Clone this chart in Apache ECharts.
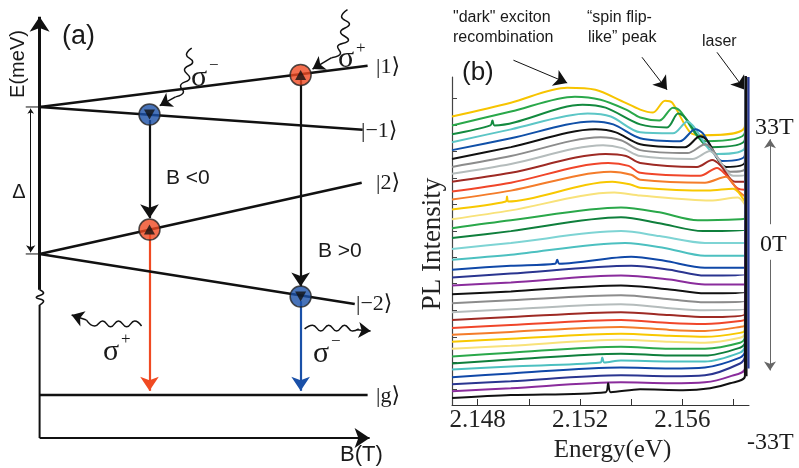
<!DOCTYPE html>
<html><head><meta charset="utf-8">
<script src="https://cdn.jsdelivr.net/npm/echarts@6/dist/echarts.min.js"></script>
<style>html,body{margin:0;padding:0;background:#fff}#c{width:799px;height:468px}</style>
</head><body><div id="c"></div>
<script>
// ---------------- Panel (b) data : PL spectra, energy (eV) vs intensity (arb. units, stacked) ----------------
const energyTicks = [2.148, 2.150, 2.152, 2.154, 2.156, 2.158];
const energyLabels = [2.148, 2.152, 2.156];
const intensityTicks = [1.6, 4.3, 6.9, 9.6, 12.3, 15.0, 17.6, 20.3, 23.0, 25.7, 28.3, 31.0];
const fieldLabels = ['33T', '0T', '-33T'];
const laserEnergy = 2.15848;
const laserPeak = 40;
const curveColors = ['#f7c400','#2aa84a','#138a3f','#5cc6c6','#1050a8','#111111','#8c8c8c','#b5bcbc','#9e2a24',
  '#f0462a','#f47c2a','#f8c800','#f8e27a','#2aa84a','#0f7f3c','#7ed4d4','#4cc0c0','#1048a8','#2a3590','#8a2c9c','#111111',
  '#8c8c8c','#b5bcbc','#9e2a24','#f0462a','#f47c2a','#f8c800','#f8e27a','#2aa84a','#0f7f3c','#4cc0c0','#1048a8','#2a3590','#8a2c9c','#111111'];
const spectra = [
 [[2.1470,29.2],[2.1493,30.6],[2.1515,32.1],[2.1526,31.9],[2.1536,30.8],[2.15435,29.9],[2.15485,29.6],[2.15532,30.8],[2.1556,30.6],[2.1563,27.6],[2.1568,27.3],[2.15844,28.2]],
 [[2.1470,28.3],[2.1493,29.7],[2.1518,31.2],[2.1528,30.9],[2.1538,29.9],[2.15435,29.1],[2.1551,28.8],[2.15563,30.1],[2.1559,29.8],[2.1569,26.7],[2.15844,27.6]],
 [[2.1470,27.4],[2.1485,28.3],[2.14858,28.8],[2.14866,28.3],[2.1521,30.4],[2.1530,30.1],[2.15435,28.4],[2.1554,28.1],[2.15583,29.5],[2.1561,29.1],[2.1571,26.1],[2.15844,26.9]],
 [[2.1470,26.6],[2.1493,27.9],[2.1523,29.5],[2.1532,29.2],[2.15435,27.6],[2.15563,27.5],[2.1562,28.7],[2.1564,28.3],[2.15735,25.4],[2.15844,26.1]],
 [[2.1470,25.8],[2.1493,27.0],[2.1525,28.7],[2.1533,28.4],[2.15435,27.0],[2.1559,26.7],[2.1565,27.9],[2.1568,27.5],[2.15755,24.7],[2.15844,25.3]],
 [[2.1470,24.9],[2.1493,26.1],[2.1526,27.9],[2.1534,27.6],[2.15435,26.4],[2.1561,26.1],[2.15669,27.2],[2.15696,26.8],[2.1577,24.1],[2.15844,24.6]],
 [[2.1470,24.1],[2.1493,25.2],[2.1528,27.1],[2.1536,26.8],[2.15435,25.8],[2.1562,25.5],[2.1569,26.4],[2.15716,25.9],[2.15786,23.6],[2.15844,23.9]],
 [[2.1470,23.4],[2.1493,24.4],[2.1529,26.3],[2.15365,26.0],[2.15435,25.2],[2.1564,24.9],[2.15708,25.7],[2.15731,25.2],[2.15798,23.2],[2.15844,23.3]],
 [[2.1470,22.6],[2.1493,23.5],[2.1530,25.4],[2.1538,25.2],[2.15435,24.5],[2.15657,24.1],[2.15716,24.8],[2.15747,24.3],[2.15805,22.6],[2.15844,22.6]],
 [[2.1470,21.6],[2.1493,22.5],[2.1531,24.5],[2.1539,24.2],[2.15435,23.5],[2.15669,23.2],[2.15735,24.0],[2.15766,23.4],[2.15817,21.9],[2.15844,21.8]],
 [[2.1470,20.8],[2.1493,21.7],[2.1532,23.6],[2.1540,23.3],[2.15435,22.8],[2.15688,22.5],[2.1577,23.1],[2.15817,21.7],[2.15844,21.1]],
 [[2.1470,19.8],[2.1491,20.6],[2.14915,21.1],[2.1492,20.6],[2.15326,22.6],[2.1540,22.3],[2.15435,22.0],[2.1570,21.7],[2.15798,21.9],[2.15844,20.6]],
 [[2.1470,18.8],[2.1493,19.7],[2.15334,21.5],[2.15435,21.2],[2.15708,20.7],[2.15817,21.0],[2.15844,20.3]],
 [[2.1470,17.9],[2.1493,18.7],[2.1536,20.0],[2.1551,19.5],[2.1566,18.7],[2.15825,18.8],[2.15844,18.9]],
 [[2.1470,16.9],[2.1493,17.6],[2.1536,19.0],[2.1551,18.4],[2.1568,17.6],[2.15844,17.7]],
 [[2.1470,15.8],[2.1493,16.4],[2.1536,17.6],[2.1551,17.1],[2.15688,16.4],[2.15844,16.4]],
 [[2.1470,14.7],[2.1493,15.2],[2.15376,16.4],[2.1553,15.9],[2.15688,15.1],[2.15844,15.1]],
 [[2.1470,13.7],[2.1493,14.1],[2.15103,14.3],[2.15111,14.7],[2.15119,14.3],[2.1540,15.0],[2.1553,14.6],[2.15688,13.9],[2.15844,13.9]],
 [[2.1470,12.9],[2.1493,13.3],[2.1540,14.1],[2.1555,13.7],[2.15688,13.1],[2.15844,13.2]],
 [[2.1470,12.1],[2.1493,12.4],[2.1536,13.1],[2.1555,12.7],[2.15688,12.2],[2.15844,12.2]],
 [[2.1470,11.2],[2.1493,11.5],[2.1536,12.1],[2.1555,11.7],[2.15688,11.3],[2.15844,11.4]],
 [[2.1470,10.3],[2.1493,10.6],[2.1536,11.1],[2.1555,10.7],[2.15688,10.4],[2.15844,10.5]],
 [[2.1470,9.4],[2.1493,9.7],[2.1536,10.2],[2.1555,9.8],[2.15688,9.6],[2.15844,9.7]],
 [[2.1470,8.6],[2.1493,8.9],[2.1536,9.4],[2.1555,9.1],[2.15688,8.9],[2.15844,9.2]],
 [[2.1470,7.8],[2.1493,8.1],[2.1536,8.6],[2.1555,8.3],[2.15688,8.2],[2.15825,8.5],[2.15844,8.7]],
 [[2.1470,7.1],[2.1493,7.4],[2.1536,7.9],[2.1555,7.6],[2.15688,7.5],[2.15825,7.9],[2.15844,8.1]],
 [[2.1470,6.4],[2.1493,6.7],[2.1536,7.2],[2.1555,7.0],[2.15688,6.9],[2.15825,7.3],[2.15844,7.6]],
 [[2.1470,5.7],[2.1493,6.0],[2.1536,6.6],[2.1555,6.4],[2.15688,6.3],[2.15825,6.8],[2.15844,7.2]],
 [[2.1470,4.9],[2.1493,5.3],[2.1536,5.9],[2.1555,5.7],[2.15688,5.7],[2.15825,6.3],[2.15844,6.8]],
 [[2.1470,4.2],[2.1493,4.6],[2.1536,5.2],[2.1555,5.0],[2.15688,5.0],[2.15825,5.8],[2.15844,6.3]],
 [[2.1470,3.6],[2.1493,3.9],[2.1528,4.3],[2.15287,4.8],[2.15295,4.3],[2.1536,4.5],[2.1555,4.4],[2.15688,4.4],[2.15825,5.3],[2.15844,5.9]],
 [[2.1470,2.8],[2.1493,3.2],[2.1536,3.8],[2.1555,3.7],[2.15688,3.8],[2.15825,4.8],[2.15844,5.4]],
 [[2.1470,2.1],[2.1493,2.4],[2.1536,3.0],[2.1555,2.9],[2.15688,3.0],[2.15825,4.2],[2.15844,4.9]],
 [[2.1470,1.4],[2.1493,1.7],[2.1536,2.3],[2.1555,2.2],[2.15688,2.3],[2.15786,2.9],[2.15844,3.7]],
 [[2.1470,0.7],[2.1493,1.0],[2.1530,1.3],[2.1531,2.2],[2.1532,1.3],[2.15435,1.6],[2.15602,1.5],[2.15708,1.7],[2.15786,2.2],[2.15844,2.9]]
];
const laserLines = [[[2.15850,2.9],[2.15850,33.2]], [[2.15858,3.7],[2.15858,33.2]]];
const laserColors = ['#111111', '#2a3a95'];
const annotationArrows = [[[2.14940,34.9],[2.15150,32.6]], [[2.15442,35.2],[2.15540,31.9]], [[2.15735,35.7],[2.15844,31.9]]];
const fieldArrows = [[[2.15942,18.3],[2.15942,26.9]], [[2.15942,14.7],[2.15942,3.5]]];

// ---------------- Panel (a) data : level scheme, schematic units (B horizontal, E vertical) ----------------
const levelNames = ['|1⟩', '|−1⟩', '|2⟩', '|−2⟩', '|g⟩'];
const levelLines = [
 [[0,7.86],[9.94,8.84]],
 [[0,7.86],[9.79,7.32]],
 [[0,4.37],[9.76,6.06]],
 [[0,4.37],[9.55,3.18]],
 [[0,1.02],[9.94,1.02]]
];
const circlePoints = [[3.33,7.68],[3.33,4.95],[7.91,8.62],[7.91,3.36]];
const circleColors = ['#1a50a8','#f04a22','#f04a22','#1a50a8'];
const spinUp = [false, true, true, false];
const transitions = [
 [[3.33,7.55],[3.33,5.22]],
 [[3.33,4.85],[3.33,1.12]],
 [[7.91,8.50],[7.91,3.60]],
 [[7.91,3.25],[7.91,1.12]]
];
const transitionColors = ['#111111','#f04a22','#111111','#1a50a8'];
const photonWaves = [
 [[4.61,9.26],[4.45,9.10],[4.64,8.93],[4.39,8.74],[4.55,8.55],[4.27,8.36],[4.36,8.22],[4.12,8.10]],
 [[9.33,10.17],[9.15,10.00],[9.39,9.83],[9.12,9.64],[9.36,9.45],[9.03,9.29],[9.12,9.14],[8.85,9.03]],
 [[3.09,2.66],[2.88,2.78],[2.64,2.64],[2.39,2.78],[2.15,2.64],[1.91,2.78],[1.67,2.66],[1.42,2.80]],
 [[8.03,2.59],[8.27,2.68],[8.52,2.54],[8.76,2.68],[9.00,2.54],[9.24,2.68],[9.48,2.54],[9.67,2.59]]
];
const photonArrows = [
 [[4.12,8.10],[3.64,7.89]],
 [[8.85,9.03],[8.27,8.76]],
 [[1.42,2.80],[0.97,2.92]],
 [[9.61,2.57],[10.03,2.54]]
];
const eAxisUpper = [[0,3.52],[0,10.0]];
const eAxisLower = [[0,0],[0,3.16]];
const eAxisBreak = [[0,3.52],[0.12,3.44],[-0.1,3.34],[0.12,3.25],[0,3.16]];
const bAxis = [[0,0],[10.0,0]];
const deltaArrow = [[-0.27,7.82],[-0.27,4.41]];
const deltaTicks = [[[-0.42,7.86],[0,7.86]], [[-0.42,4.37],[0,4.37]]];

// ---------------- build ----------------
const SANS = '"Liberation Sans", Arial, sans-serif';
const SERIF = '"Liberation Serif", "Times New Roman", "DejaVu Serif", serif';
const series = [];

function lineSer(data, color, width, gi, smooth) {
  return {type:'line', xAxisIndex:gi, yAxisIndex:gi, data:data, showSymbol:false, symbol:'none',
    smooth: smooth || false, lineStyle:{color:color, width:width}, silent:true, clip: gi === 1, animation:false};
}
function arrowSer(segs, colors, width, size, gi, symbols) {
  return {type:'lines', coordinateSystem:'cartesian2d', xAxisIndex:gi, yAxisIndex:gi, polyline:false,
    symbol: symbols || ['none','arrow'], symbolSize:size, clip:false, silent:true, animation:false,
    lineStyle:{width:width, opacity:1, curveness:0},
    data: segs.map((s,i)=>({coords:s, lineStyle:{color: Array.isArray(colors)? colors[i] : colors}}))};
}

// panel (b) spectra
spectra.forEach((s,i)=>{
  series.push(lineSer(s.concat([[laserEnergy, laserPeak]]), curveColors[i], 2, 1, 0.3));
});
laserLines.forEach((l,i)=>series.push(lineSer(l, laserColors[i], 2.2, 1)));
series.push(arrowSer(annotationArrows, '#111', 1, [9,13], 1));
series.push(arrowSer(fieldArrows, '#666', 1, [6,9], 1));

// panel (a)
series.push(lineSer(eAxisLower, '#111', 2, 0));
series.push(lineSer(eAxisBreak, '#111', 1.6, 0, true));
series.push(arrowSer([eAxisUpper], '#111', 3, [11,15], 0));
series.push(arrowSer([bAxis], '#111', 2, [11,15], 0));
series.push(arrowSer([deltaArrow], '#111', 1, [5,7], 0, ['arrow','arrow']));
deltaTicks.forEach(t=>series.push(lineSer(t, '#111', 1, 0)));
levelLines.forEach(l=>series.push(lineSer(l, '#111', 2.6, 0)));
photonWaves.forEach(w=>series.push(lineSer(w, '#111', 1.5, 0, true)));
series.push(arrowSer(photonArrows, '#111', 1.5, [9,12], 0));
series.push(arrowSer(transitions, transitionColors, 2.2, [11,14], 0));
series.push({type:'scatter', xAxisIndex:0, yAxisIndex:0, symbol:'circle', symbolSize:21, silent:true, animation:false, z:5,
  data: circlePoints.map((p,i)=>({value:p, itemStyle:{color:circleColors[i], borderColor:'#222', borderWidth:1.5}}))});
series.push({type:'scatter', xAxisIndex:0, yAxisIndex:0, symbol:'triangle', symbolSize:[11,10], silent:true, animation:false, z:6,
  data: circlePoints.map((p,i)=>({value:p, symbolRotate: spinUp[i]?0:180, itemStyle:{color:'#111'}}))});

function txt(text, x, y, font, align, extra) {
  return Object.assign({type:'text', x:x, y:y, silent:true, z:100,
    style:{text:text, font:font, fill:'#1a1a1a', textAlign:align||'left', textVerticalAlign:'middle'}}, extra||{});
}
const graphics = [
  txt('E(meV)', 18, 64, '20px '+SANS, 'center', {rotation:Math.PI/2}),
  txt('(a)', 62, 37, '27px '+SANS),
  txt(levelNames[0], 376, 67, '22px '+SERIF),
  txt(levelNames[1], 361, 131, '22px '+SERIF),
  txt(levelNames[2], 376, 183, '22px '+SERIF),
  txt(levelNames[3], 356, 304, '22px '+SERIF),
  txt(levelNames[4], 376, 396, '22px '+SERIF),
  txt('B <0', 166, 178, '21px '+SANS),
  txt('B >0', 318, 251, '21px '+SANS),
  txt('Δ', 19, 192, '20px '+SANS, 'center'),
  txt('B(T)', 340, 455, '22px '+SANS),
  txt('σ', 191, 78, '30px '+SERIF), txt('−', 209, 66, '17px '+SERIF),
  txt('σ', 338, 59, '30px '+SERIF), txt('+', 356, 49, '17px '+SERIF),
  txt('σ', 103, 352, '30px '+SERIF), txt('+', 121, 340, '17px '+SERIF),
  txt('σ', 313, 354, '30px '+SERIF), txt('−', 331, 342, '17px '+SERIF),
  txt('"dark" exciton', 453, 18, '16px '+SANS),
  txt('recombination', 453, 38, '16px '+SANS),
  txt('“spin flip-', 587, 18, '16px '+SANS),
  txt('like” peak', 588, 38, '16px '+SANS),
  txt('laser', 702, 42, '16px '+SANS),
  txt('(b)', 462, 73, '26px '+SANS),
  txt(fieldLabels[0], 755, 128, '24px '+SERIF),
  txt(fieldLabels[1], 760, 245, '24px '+SERIF),
  txt(fieldLabels[2], 747, 443, '24px '+SERIF)
];

const chart = echarts.init(document.getElementById('c'), null, {renderer:'canvas'});
chart.setOption({
  animation:false,
  backgroundColor:'#ffffff',
  grid:[{left:0, top:0, width:396, height:438}, {left:452, top:77, width:297, height:332}],
  xAxis:[
    {gridIndex:0, type:'value', min:-1.2, max:10.8, show:false},
    {gridIndex:1, type:'value', min:2.1470, max:2.1586,
      axisLine:{show:true, lineStyle:{color:'#333', width:1}},
      axisTick:{show:true, inside:true, length:6, customValues:energyTicks, lineStyle:{color:'#333'}},
      axisLabel:{customValues:energyLabels, formatter:v=>v.toFixed(3), fontFamily:SERIF, fontSize:25, color:'#222', margin:3},
      splitLine:{show:false},
      name:'Energy(eV)', nameLocation:'middle', nameGap:33,
      nameTextStyle:{fontFamily:SERIF, fontSize:25, color:'#222', padding:[0,0,0,24]}}
  ],
  yAxis:[
    {gridIndex:0, type:'value', min:0, max:10.4, show:false},
    {gridIndex:1, type:'value', min:0, max:33.2,
      axisLine:{show:true, lineStyle:{color:'#444', width:1.2}},
      axisTick:{show:true, inside:true, length:5, customValues:intensityTicks, lineStyle:{color:'#444'}},
      axisLabel:{show:false}, splitLine:{show:false},
      name:'PL Intensity', nameLocation:'middle', nameGap:6,
      nameTextStyle:{fontFamily:SERIF, fontSize:27, color:'#222', padding:[0,0,0,-6]}}
  ],
  series: series,
  graphic: graphics
});
</script></body></html>
